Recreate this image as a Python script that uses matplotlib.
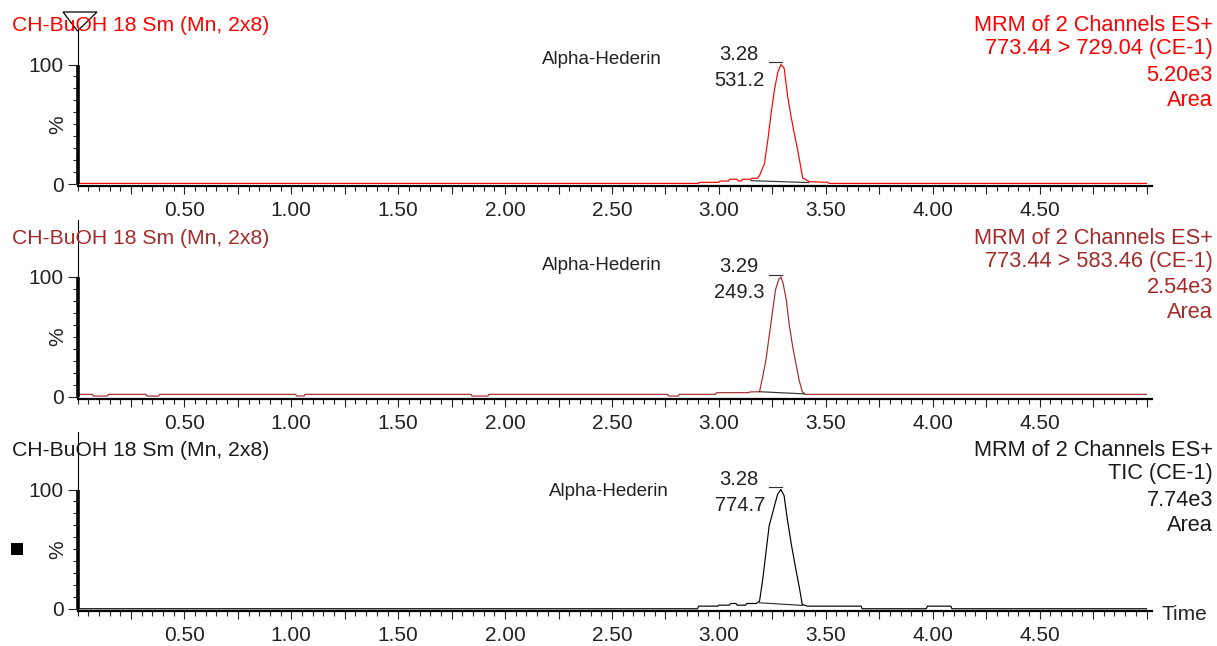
import numpy as np
import matplotlib
matplotlib.use('Agg')
import matplotlib.pyplot as plt
from matplotlib.ticker import FixedLocator, MultipleLocator, FuncFormatter
from matplotlib.patches import Polygon, Rectangle

plt.rcParams['font.family'] = ['Liberation Sans', 'DejaVu Sans']

# --- chromatogram traces (time in min, intensity in %) ---
t1 = [0.00, 2.905, 2.91, 3.00, 3.005, 3.045, 3.05, 3.085, 3.09, 3.105, 3.11, 3.15, 3.155,
      3.18, 3.19, 3.213, 3.229, 3.244, 3.26, 3.275, 3.29, 3.305, 3.322, 3.338, 3.353,
      3.369, 3.385, 3.392, 3.424, 3.51, 3.515, 5.00]
p1 = [0.5, 0.5, 1.4, 1.4, 2.5, 2.5, 4.0, 4.0, 2.5, 2.5, 4.0, 4.0, 4.8,
      4.8, 7.0, 17, 37, 59, 79, 93, 100, 97, 73, 56, 42,
      28, 12, 5, 1.9, 1.4, 0.5, 0.5]

t2 = [0.00, 0.07, 0.075, 0.14, 0.145, 0.32, 0.325, 0.38, 0.385, 1.02, 1.025, 1.06, 1.065,
      1.84, 1.845, 1.92, 1.925, 2.76, 2.765, 2.81, 2.815, 2.985, 2.99, 3.14, 3.145, 3.19,
      3.205, 3.22, 3.235, 3.25, 3.265, 3.28, 3.29, 3.30, 3.315, 3.33, 3.345, 3.36, 3.375,
      3.39, 3.405, 5.00]
p2 = [1.8, 1.8, 0.4, 0.4, 1.8, 1.8, 0.4, 0.4, 1.8, 1.8, 0.4, 0.4, 1.8,
      1.8, 0.4, 0.4, 1.8, 1.8, 0.4, 0.4, 1.8, 1.8, 3.2, 3.2, 3.8, 4.0,
      16.6, 30.7, 50.3, 70, 89.5, 98, 100, 95, 81, 58.7, 41.8, 27.9, 13.9,
      4.0, 1.8, 1.8]

t3 = [0.00, 2.90, 2.905, 2.995, 3.00, 3.05, 3.055, 3.08, 3.085, 3.125, 3.13, 3.175,
      3.19, 3.205, 3.22, 3.235, 3.26, 3.275, 3.29, 3.305, 3.32, 3.34, 3.36, 3.375,
      3.39, 3.415, 3.665, 3.67, 3.97, 3.975, 4.085, 4.09, 5.00]
p3 = [0.2, 0.2, 2.4, 2.4, 3.2, 3.2, 4.6, 4.6, 3.2, 3.2, 4.6, 4.6,
      6.6, 24.8, 47.2, 69.6, 86.4, 96.2, 100, 94.8, 75.2, 52.8, 33.2, 19.2,
      3.8, 2.4, 2.4, 0.2, 0.2, 2.4, 2.4, 0.2, 0.2]

# integration baselines under the peak
base_t1 = [3.15, 3.42]
base_p1 = [2.8, 1.2]
base_t2 = [3.19, 3.40]
base_p2 = [4.0, 2.2]
base_t3 = [3.19, 3.39]
base_p3 = [5.2, 3.0]

peak_rt = ['3.28', '3.29', '3.28']
peak_area = ['531.2', '249.3', '774.7']
compound = 'Alpha-Hederin'
left_title = 'CH-BuOH 18 Sm (Mn, 2x8)'
right1 = ['MRM of 2 Channels ES+', '773.44 > 729.04 (CE-1)', '5.20e3', 'Area']
right2 = ['MRM of 2 Channels ES+', '773.44 > 583.46 (CE-1)', '2.54e3', 'Area']
right3 = ['MRM of 2 Channels ES+', 'TIC (CE-1)', '7.74e3', 'Area']

colors = ['#ff0000', '#a52a2a', '#000000']
text_colors = ['#ff0000', '#a52a2a', '#1a1a1a']

W, H = 1217, 646
fig = plt.figure(figsize=(W / 100, H / 100), dpi=100)
fig.patch.set_facecolor('white')


def px_axes(left, top, right, bottom):
    return fig.add_axes([left / W, 1 - bottom / H, (right - left) / W, (bottom - top) / H])


def px_text(x, y, s, **kw):
    return fig.text(x / W, 1 - y / H, s, **kw)


def fmt_x(v, pos):
    k = v / 0.5
    if abs(k - round(k)) < 1e-6 and 0.4 < v < 4.8:
        return f'{v:.2f}'
    return ''


zero_px = [184, 396.5, 609]
top_px = [30, 220, 432]
ppu = 1.195  # pixels per %
x_left, x_right = 77.5, 1152
name_dx = [-179, -179, -172]
name_dy = [1, 7, -6]
ink = '#222222'

traces = [(t1, p1), (t2, p2), (t3, p3)]
bases = [(base_t1, base_p1), (base_t2, base_p2), (base_t3, base_p3)]
rights = [right1, right2, right3]

for i in range(3):
    bottom = zero_px[i] + 2
    ax = px_axes(x_left, top_px[i], x_right, bottom)
    ymin = -2 / ppu
    ymax = ymin + (bottom - top_px[i]) / ppu
    ax.set_xlim(0, (x_right - x_left) / 213.8)
    ax.set_ylim(ymin, ymax)
    ax.patch.set_alpha(0)

    t, p = traces[i]
    ax.plot(t, p, color=colors[i], lw=0.85)
    bt, bp = bases[i]
    ax.plot(bt, bp, color='#333333', lw=0.85)

    # apex marker and labels
    k = int(np.argmax(p))
    rt = t[k]
    ax.plot([rt - 0.055, rt + 0.004], [102, 102], color='#333333', lw=0.85)
    ax.annotate(peak_rt[i], xy=(rt, 100), xytext=(-22.5, 4.5), textcoords='offset pixels',
                ha='right', va='baseline', fontsize=14.5, color=ink)
    ax.annotate(peak_area[i], xy=(rt, 100), xytext=(-16, -21.5), textcoords='offset pixels',
                ha='right', va='baseline', fontsize=14.5, color=ink)
    ax.annotate(compound, xy=(rt, 100), xytext=(name_dx[i], name_dy[i]),
                textcoords='offset pixels', ha='center', va='baseline',
                fontsize=13.5, color=ink)

    for side in ['top', 'right']:
        ax.spines[side].set_visible(False)
    ax.spines['left'].set_linewidth(0.8)
    ax.spines['bottom'].set_linewidth(1.6)
    ax.spines['left'].set_color('black')
    ax.spines['bottom'].set_color('black')
    # thick part of the intensity axis
    ax.plot([0, 0], [0, 100], color='black', lw=2.6, solid_capstyle='butt', clip_on=False)

    ax.yaxis.set_major_locator(FixedLocator([0, 100]))
    ax.yaxis.set_minor_locator(FixedLocator(list(range(10, 100, 10))))
    ax.tick_params(axis='y', which='major', length=7, width=0.8, pad=3,
                   labelsize=15, colors=ink)
    ax.tick_params(axis='y', which='minor', length=3.5, width=0.8, colors=ink)
    ax.annotate('%', xy=(0, 50), xytext=(-20, 0), textcoords='offset pixels',
                rotation=90, ha='center', va='center', fontsize=15, color=ink)

    ax.xaxis.set_major_locator(FixedLocator(list(np.arange(0.25, 5.01, 0.25))))
    ax.xaxis.set_minor_locator(MultipleLocator(0.05))
    ax.xaxis.set_major_formatter(FuncFormatter(fmt_x))
    ax.tick_params(axis='x', which='major', length=6, width=0.8, pad=5,
                   labelsize=15, colors=ink)
    ax.tick_params(axis='x', which='minor', length=3.5, width=0.8, colors=ink)

    # titles
    base_y = zero_px[i] - 153
    px_text(12, base_y, left_title, ha='left', va='baseline', fontsize=15.2,
            color=text_colors[i])
    offs = [0, 23, 50, 75]
    for line, o in zip(rights[i], offs):
        px_text(1213, base_y + o, line, ha='right', va='baseline', fontsize=15.7,
                color=text_colors[i])

# x axis name
px_text(1161, 620, 'Time', ha='left', va='baseline', fontsize=15, color=ink)

# marker triangle on top of first panel and square by third panel
fig.add_artist(Polygon([[63 / W, 1 - 12 / H], [97 / W, 1 - 12 / H], [77.5 / W, 1 - 31 / H]],
                       closed=True, fill=False, edgecolor='black', lw=0.9,
                       transform=fig.transFigure))
fig.add_artist(Rectangle((11 / W, 1 - 555 / H), 12 / W, 12 / H, facecolor='black',
                         edgecolor='none', transform=fig.transFigure))

fig.savefig('out.png', dpi=100)
